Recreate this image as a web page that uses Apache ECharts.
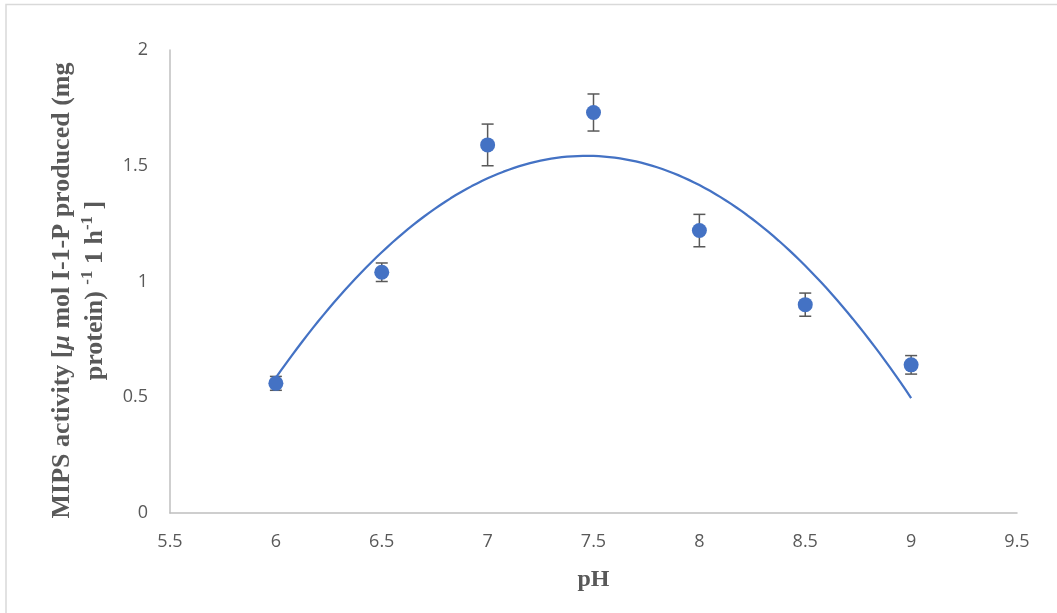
<!DOCTYPE html>
<html>
<head>
<meta charset="utf-8">
<script src="https://cdn.jsdelivr.net/npm/echarts@6/dist/echarts.min.js"></script>
<style>
  html, body { margin: 0; padding: 0; background: #ffffff; }
  #chart { width: 1057px; height: 613px; }
</style>
</head>
<body>
<div id="chart"></div>
<script>
// MIPS activity measured at each pH, with standard-error bars
const phValues = [6, 6.5, 7, 7.5, 8, 8.5, 9];
const activity = [0.56, 1.04, 1.59, 1.73, 1.22, 0.90, 0.64];
const errors   = [0.03, 0.04, 0.09, 0.08, 0.07, 0.05, 0.04];

// Axis ranges and tick spacing
const xRange = [5.5, 9.5];
const xStep = 0.5;
const yRange = [0, 2];
const yStep = 0.5;

// Second-order polynomial least-squares trendline (y = a + b x + c x^2)
function quadraticFit(xs, ys) {
  const s = [0, 0, 0, 0, 0];
  const t = [0, 0, 0];
  xs.forEach((x, i) => {
    for (let k = 0; k <= 4; k++) s[k] += Math.pow(x, k);
    for (let k = 0; k <= 2; k++) t[k] += Math.pow(x, k) * ys[i];
  });
  const m = [
    [s[0], s[1], s[2], t[0]],
    [s[1], s[2], s[3], t[1]],
    [s[2], s[3], s[4], t[2]]
  ];
  for (let i = 0; i < 3; i++) {
    let p = i;
    for (let r = i + 1; r < 3; r++) if (Math.abs(m[r][i]) > Math.abs(m[p][i])) p = r;
    [m[i], m[p]] = [m[p], m[i]];
    for (let r = 0; r < 3; r++) {
      if (r === i) continue;
      const f = m[r][i] / m[i][i];
      for (let c = i; c < 4; c++) m[r][c] -= f * m[i][c];
    }
  }
  return [m[0][3] / m[0][0], m[1][3] / m[1][1], m[2][3] / m[2][2]];
}

const coef = quadraticFit(phValues, activity);
const trend = [];
const x0 = phValues[0], x1 = phValues[phValues.length - 1];
for (let i = 0; i <= 120; i++) {
  const x = x0 + (x1 - x0) * i / 120;
  trend.push([x, coef[0] + coef[1] * x + coef[2] * x * x]);
}

const points = phValues.map((x, i) => [x, activity[i]]);
const bars = phValues.map((x, i) => [x, activity[i] - errors[i], activity[i] + errors[i]]);

const chart = echarts.init(document.getElementById('chart'));

const labelFont = { color: '#595959', fontFamily: 'Open Sans', fontSize: 18 };
const titleFont = { color: '#595959', fontFamily: 'Liberation Serif', fontWeight: 'bold', fontSize: 26 };

chart.setOption({
  animation: false,
  backgroundColor: '#ffffff',
  graphic: [{
    type: 'rect',
    shape: { x: 6, y: 4.5, width: 1200, height: 800 },
    style: { fill: 'none', stroke: '#d9d9d9', lineWidth: 1.5 },
    silent: true
  }],
  grid: { left: 170, right: 40, top: 50, bottom: 100 },
  xAxis: {
    type: 'value',
    min: xRange[0], max: xRange[1], interval: xStep,
    axisLine: { show: true, lineStyle: { color: '#bfbfbf', width: 1.5 } },
    axisTick: { show: false },
    splitLine: { show: false },
    axisLabel: Object.assign({ margin: 20 }, labelFont),
    name: 'pH',
    nameLocation: 'middle',
    nameGap: 55,
    nameTextStyle: Object.assign({}, titleFont, { fontSize: 24 })
  },
  yAxis: {
    type: 'value',
    min: yRange[0], max: yRange[1], interval: yStep,
    axisLine: { show: true, lineStyle: { color: '#bfbfbf', width: 1.5 } },
    axisTick: { show: false },
    splitLine: { show: false },
    axisLabel: Object.assign({ margin: 22 }, labelFont),
    name: '{t|MIPS activity [}{i|\u03bc}{t| mol I-1-P produced (mg}\n{t|protein) }{s|-1}{t| 1 h}{s|-1}{t| ]}',
    nameLocation: 'middle',
    nameRotate: 90,
    nameGap: 56,
    nameTextStyle: Object.assign({}, titleFont, {
      lineHeight: 33,
      padding: [0, 18, 0, 0],
      rich: {
        t: Object.assign({}, titleFont, { lineHeight: 33 }),
        i: Object.assign({}, titleFont, { fontStyle: 'italic', lineHeight: 33 }),
        s: Object.assign({}, titleFont, { fontSize: 17, lineHeight: 33, verticalAlign: 'top' })
      }
    })
  },
  series: [
    {
      type: 'custom',
      z: 2,
      data: bars,
      renderItem: function (params, api) {
        const x = api.value(0);
        const lo = api.coord([x, api.value(1)]);
        const hi = api.coord([x, api.value(2)]);
        const hw = 6;
        const st = { stroke: '#595959', lineWidth: 1.5 };
        return {
          type: 'group',
          children: [
            { type: 'line', shape: { x1: hi[0], y1: hi[1], x2: lo[0], y2: lo[1] }, style: st },
            { type: 'line', shape: { x1: hi[0] - hw, y1: hi[1], x2: hi[0] + hw, y2: hi[1] }, style: st },
            { type: 'line', shape: { x1: lo[0] - hw, y1: lo[1], x2: lo[0] + hw, y2: lo[1] }, style: st }
          ]
        };
      }
    },
    {
      type: 'line',
      z: 3,
      data: trend,
      showSymbol: false,
      smooth: false,
      lineStyle: { color: '#4472c4', width: 2.25 }
    },
    {
      type: 'scatter',
      z: 4,
      data: points,
      symbol: 'circle',
      symbolSize: 15,
      itemStyle: { color: '#4472c4', opacity: 1 }
    }
  ]
});
</script>
</body>
</html>
